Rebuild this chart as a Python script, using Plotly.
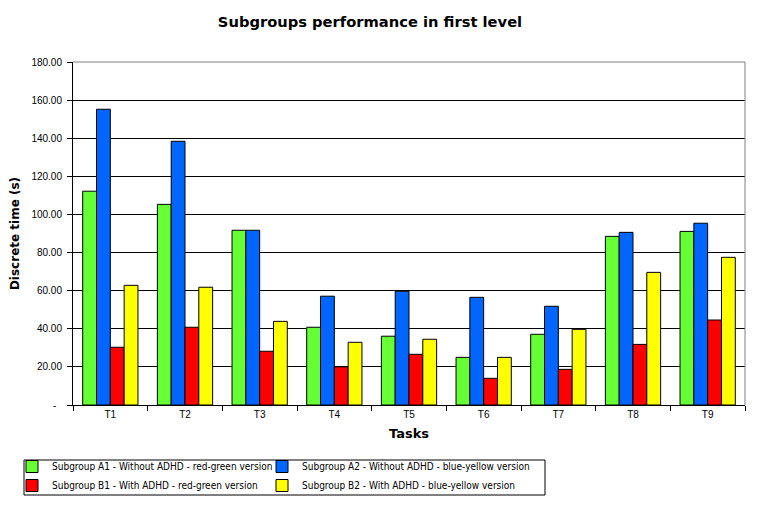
import plotly.graph_objects as go

tasks = ["T1", "T2", "T3", "T4", "T5", "T6", "T7", "T8", "T9"]
a1_rg = [112.2, 105.3, 91.7, 40.8, 36.1, 25.0, 37.1, 88.5, 91.1]
a2_by = [155.2, 138.4, 91.7, 57.1, 59.7, 56.5, 51.8, 90.6, 95.4]
b1_rg = [30.3, 40.8, 28.2, 20.0, 26.6, 14.0, 18.7, 31.8, 44.6]
b2_by = [62.8, 61.8, 43.9, 32.9, 34.5, 25.0, 39.7, 69.6, 77.5]

series_names = [
    "Subgroup A1 - Without ADHD - red-green version",
    "Subgroup A2 - Without ADHD - blue-yellow version",
    "Subgroup B1 - With ADHD - red-green version",
    "Subgroup B2 - With ADHD - blue-yellow version",
]
series_values = [a1_rg, a2_by, b1_rg, b2_by]
series_colors = ["#66FF33", "#0066FF", "#FF0000", "#FFFF00"]
series_legend = ["legend", "legend2", "legend", "legend2"]  # two legend columns

y_tickvals = [0, 20, 40, 60, 80, 100, 120, 140, 160, 180]
y_ticktext = ["-\u00a0\u00a0", "20.00", "40.00", "60.00", "80.00", "100.00", "120.00", "140.00", "160.00", "180.00"]

fig = go.Figure()
for name, vals, col, lg in zip(series_names, series_values, series_colors, series_legend):
    fig.add_trace(go.Bar(
        x=tasks, y=vals, name=name, legend=lg,
        marker=dict(color=col, line=dict(color="black", width=1)),
    ))

W, H = 752, 507  # page body has an 8px default margin
PW, PH = 672, 343  # plot area size
L, B = 65, 110

legend_font = dict(family="DejaVu Sans Condensed", size=10, color="black")
common_legend = dict(orientation="v", yanchor="top", xanchor="left",
                     bgcolor="rgba(0,0,0,0)", borderwidth=0,
                     font=legend_font, itemwidth=30, tracegroupgap=0,
                     traceorder="normal")

fig.update_layout(
    width=W, height=H,
    paper_bgcolor="white", plot_bgcolor="white",
    margin=dict(l=L, r=15, t=54, b=B, autoexpand=False),
    barmode="group", bargap=0.26, bargroupgap=0,
    title=dict(text="<b>Subgroups performance in first level</b>",
               x=362 / W, xanchor="center", y=1 - 14 / H, yanchor="middle",
               font=dict(family="DejaVu Sans", size=14.7, color="black")),
    font=dict(family="Liberation Sans", color="black"),
    showlegend=True,
    legend=dict(x=(4 - L) / PW, y=-47 / PH, **common_legend),
    legend2=dict(x=(254 - L) / PW, y=-47 / PH, **common_legend),
    xaxis=dict(
        automargin=False,
        showline=True, linecolor="black", linewidth=1,
        ticks="outside", tickson="boundaries", ticklen=5, tickcolor="black",
        tickfont=dict(family="Liberation Sans", size=10),
        title=dict(text="<b>Tasks</b>", font=dict(family="DejaVu Sans", size=13), standoff=9),
        showgrid=False,
    ),
    yaxis=dict(
        automargin=False,
        range=[0, 180], tickvals=y_tickvals, ticktext=y_ticktext,
        showline=True, linecolor="black", linewidth=1,
        ticks="outside", ticklen=5, tickcolor="black", ticklabelstandoff=3,
        tickfont=dict(family="Liberation Sans", size=10),
        showgrid=True, gridcolor="black", gridwidth=1,
        zeroline=False,
        title=dict(text="<b>Discrete time (s)</b>", font=dict(family="DejaVu Sans", size=12), standoff=17),
    ),
    shapes=[
        dict(type="line", xref="paper", yref="paper", x0=0, x1=1, y0=1, y1=1,
             line=dict(color="gray", width=1), layer="above"),
        dict(type="line", xref="paper", yref="paper", x0=1, x1=1, y0=0, y1=1,
             line=dict(color="gray", width=1), layer="above"),
        # legend frame
        dict(type="rect", xref="paper", yref="paper",
             x0=(16 - L) / PW, x1=(537 - L) / PW, y0=-55 / PH, y1=-90 / PH,
             line=dict(color="black", width=1), fillcolor="rgba(0,0,0,0)", layer="above"),
    ],
)

fig.write_html("out.html")
